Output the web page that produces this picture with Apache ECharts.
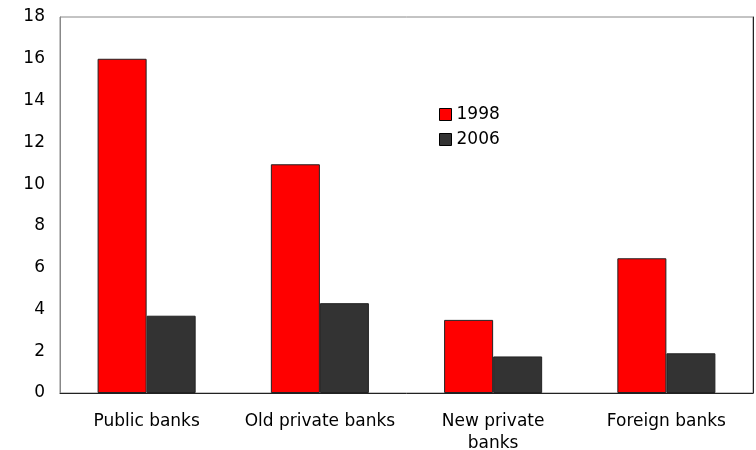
<!DOCTYPE html>
<html><head><meta charset="utf-8">
<script src="https://cdn.jsdelivr.net/npm/echarts@6/dist/echarts.min.js"></script>
<style>html,body{margin:0;padding:0;background:#fff}#c{width:756px;height:450px}</style>
</head><body><div id="c"></div>
<script>
const categories = ['Public banks', 'Old private banks', 'New private\nbanks', 'Foreign banks'];
const values1998 = [16.0, 10.95, 3.5, 6.45];
const values2006 = [3.7, 4.3, 1.75, 1.9];
const yTicks = [0, 2, 4, 6, 8, 10, 12, 14, 16, 18];

const chart = echarts.init(document.getElementById('c'));
const font = 'DejaVu Sans';
chart.setOption({
  animation: false,
  textStyle: { fontFamily: font },
  grid: { left: 60, top: 17, right: 3, bottom: 57, show: true, borderColor: '#888', borderWidth: 1,
    containLabel: false, outerBoundsMode: 'none' },
  legend: {
    data: ['1998', '2006'], orient: 'vertical', left: 434, top: 101, itemWidth: 12, itemHeight: 12, itemGap: 8,
    textStyle: { fontSize: 17, color: '#000', fontFamily: font }, icon: 'rect',
    itemStyle: { borderColor: '#000', borderWidth: 1 }
  },
  xAxis: {
    type: 'category', data: categories,
    axisLine: { lineStyle: { color: '#222', width: 1 } },
    axisTick: { show: false },
    axisLabel: { fontSize: 17, color: '#000', margin: 18, lineHeight: 22, interval: 0, fontFamily: font }
  },
  yAxis: [{
    type: 'value', min: 0, max: 18, interval: 2,
    axisLine: { show: true, lineStyle: { color: '#888' } },
    axisTick: { show: false }, splitLine: { show: false },
    axisLabel: { fontSize: 17, color: '#000', margin: 15, fontFamily: font,
      formatter: v => yTicks.includes(v) ? String(v) : '' }
  }, {
    type: 'value', min: 0, max: 18, interval: 2, position: 'right',
    axisLine: { show: true, lineStyle: { color: '#222' } },
    axisTick: { show: false }, splitLine: { show: false }, axisLabel: { show: false }
  }],
  series: [
    { name: '1998', type: 'bar', data: values1998, barWidth: '28.3%', barGap: '0%',
      itemStyle: { color: '#ff0000', borderColor: '#222', borderWidth: 1 } },
    { name: '2006', type: 'bar', data: values2006, barWidth: '28.3%',
      itemStyle: { color: '#333333', borderColor: '#222', borderWidth: 1 } }
  ]
});
</script></body></html>
